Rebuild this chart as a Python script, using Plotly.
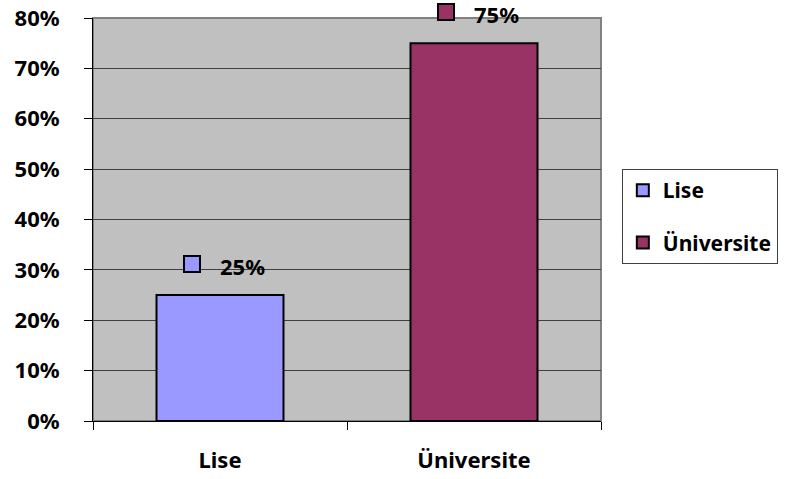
import plotly.graph_objects as go

categories = ["Lise", "Üniversite"]
values = [0.25, 0.75]
colors = ["#9999FF", "#993366"]
y_ticks = [0, 0.1, 0.2, 0.3, 0.4, 0.5, 0.6, 0.7, 0.8]

FONT = "Noto Sans"

fig = go.Figure()
for cat, val, col in zip(categories, values, colors):
    fig.add_trace(go.Bar(
        x=[cat], y=[val], name=cat, width=0.5,
        marker=dict(color=col, line=dict(color="black", width=2)),
        legendgroup=cat,
    ))

# value labels with a small colour key to the left of the text
annotations = []
for cat, val, col in zip(categories, values, colors):
    annotations.append(dict(
        x=cat, y=val, xref="x", yref="y", text=" ", showarrow=False,
        width=14, height=14, bgcolor=col, bordercolor="black", borderwidth=2,
        xshift=-28, yshift=31, borderpad=0,
    ))
    annotations.append(dict(
        x=cat, y=val, xref="x", yref="y", text=f"{val*100:.0f}%",
        showarrow=False, xshift=22, yshift=29,
        font=dict(family=FONT, size=22, color="black", weight="bold"),
    ))

fig.update_layout(
    width=792, height=479,
    margin=dict(l=93, r=191, t=18, b=58, autoexpand=False),
    paper_bgcolor="white", plot_bgcolor="#C0C0C0",
    barmode="overlay",
    font=dict(family=FONT, size=22, color="black", weight="bold"),
    showlegend=True,
    legend=dict(
        x=1.041, y=0.625, xanchor="left", yanchor="top",
        bordercolor="#404040", borderwidth=1, bgcolor="white",
        font=dict(family=FONT, size=21, color="black", weight="bold"),
        tracegroupgap=22, traceorder="grouped",
    ),
    annotations=annotations,
    shapes=[dict(type="rect", xref="paper", yref="paper", x0=0, x1=1, y0=0, y1=1,
                 line=dict(color="#808080", width=2), layer="below")],
)
fig.update_xaxes(
    type="category", tickson="boundaries", ticks="outside", ticklen=8,
    tickcolor="black", showline=True, linecolor="black", linewidth=1,
    showgrid=False, ticklabelstandoff=20, automargin=False,
    tickfont=dict(family=FONT, size=22, weight="bold"),
)
fig.update_yaxes(
    range=[0, 0.8], tickvals=y_ticks, tickformat=".0%",
    ticks="outside", ticklen=8, tickcolor="black",
    showline=True, linecolor="black", linewidth=1,
    showgrid=True, gridcolor="#404040", gridwidth=1,
    zeroline=False, ticklabelstandoff=20, automargin=False,
    tickfont=dict(family=FONT, size=22, weight="bold"),
)

fig.write_html("out.html")
